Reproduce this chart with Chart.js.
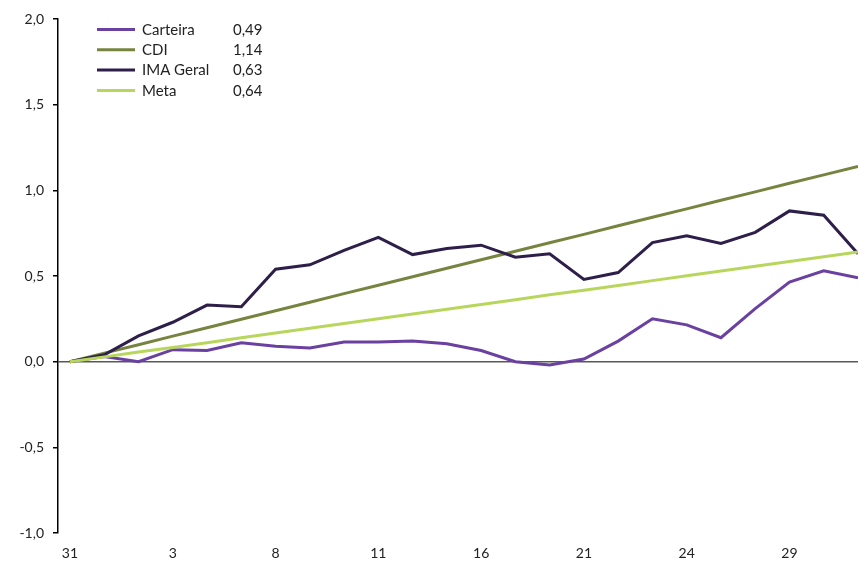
<!DOCTYPE html>
<html>
<head>
<meta charset="utf-8">
<script src="https://cdn.jsdelivr.net/npm/chart.js@4/dist/chart.umd.min.js"></script>
<style>
  html, body { margin: 0; padding: 0; background: #fff; }
  #wrap { width: 859px; height: 561px; position: relative; }
</style>
</head>
<body>
<div id="wrap"><canvas id="myChart"></canvas></div>
<script>
// dias úteis do período
const days = ['31','1','2','3','4','7','8','9','10','11','14','15','16','17','18','21','22','23','24','25','28','29','30','31']

const carteira = [0, 0.03, 0, 0.07, 0.065, 0.11, 0.09, 0.08, 0.115, 0.115, 0.12, 0.105, 0.065, 0, -0.02, 0.015, 0.12, 0.25, 0.215, 0.14, 0.31, 0.465, 0.53, 0.49]
const cdi = [0, 0.050, 0.099, 0.149, 0.198, 0.248, 0.297, 0.347, 0.397, 0.446, 0.496, 0.545, 0.595, 0.644, 0.694, 0.743, 0.793, 0.843, 0.892, 0.942, 0.991, 1.041, 1.090, 1.14]
const imaGeral = [0, 0.04, 0.15, 0.23, 0.33, 0.32, 0.54, 0.565, 0.65, 0.725, 0.625, 0.66, 0.68, 0.61, 0.63, 0.48, 0.52, 0.695, 0.735, 0.69, 0.755, 0.88, 0.855, 0.63]
const meta = [0, 0.028, 0.056, 0.083, 0.111, 0.139, 0.167, 0.195, 0.223, 0.25, 0.278, 0.306, 0.334, 0.362, 0.39, 0.417, 0.445, 0.473, 0.501, 0.529, 0.557, 0.584, 0.612, 0.64]

const seriesNames = ['Carteira', 'CDI', 'IMA Geral', 'Meta']
const seriesValues = [carteira, cdi, imaGeral, meta]
const seriesColors = ['#6a40a0', '#768440', '#2e1f4a', '#b9d65c']
const legendTotals = ['0,49', '1,14', '0,63', '0,64']

const xTicks = [0, 3, 6, 9, 12, 15, 18, 21]

const fmt = v => v.toFixed(1).replace('.', ',')

const legendPlugin = {
    id: 'sideLegend',
    afterDraw(chart) {
        const c = chart.ctx
        c.save()
        c.font = '15px Lato'
        c.textBaseline = 'middle'
        seriesNames.forEach((name, i) => {
            const y = 29.5 + i * 20.3
            c.strokeStyle = seriesColors[i]
            c.lineWidth = 3
            c.beginPath()
            c.moveTo(97, y)
            c.lineTo(135, y)
            c.stroke()
            c.fillStyle = '#222'
            c.textAlign = 'left'
            c.fillText(name, 142, y + 0.5)
            c.fillText(legendTotals[i], 233, y + 0.5)
        })
        c.restore()
    }
}

new Chart(document.getElementById('myChart'), {
    type: 'line',
    data: {
        datasets: seriesNames.map((name, i) => ({
            label: name,
            data: seriesValues[i].map((v, j) => ({ x: j, y: v })),
            borderColor: seriesColors[i],
            borderWidth: 3,
            pointRadius: 0,
            tension: 0,
            order: 3 - i
        }))
    },
    options: {
        responsive: true,
        maintainAspectRatio: false,
        animation: false,
        layout: { padding: { top: 19, right: 1, bottom: 0, left: 0 } },
        plugins: {
            legend: { display: false },
            tooltip: { enabled: false }
        },
        scales: {
            x: {
                type: 'linear',
                min: -0.35,
                max: 23,
                border: { display: false },
                grid: { display: false },
                afterBuildTicks: scale => { scale.ticks = xTicks.map(v => ({ value: v })) },
                afterFit: scale => { scale.height = 28 },
                ticks: {
                    autoSkip: false,
                    maxRotation: 0,
                    padding: 4,
                    color: '#222',
                    font: { family: 'Lato', size: 14 },
                    callback: v => days[v]
                }
            },
            y: {
                min: -1,
                max: 2,
                border: { display: true, color: '#000', width: 1.5 },
                grid: {
                    drawOnChartArea: true,
                    drawTicks: true,
                    tickLength: 5,
                    tickColor: '#000',
                    tickWidth: 1.5,
                    lineWidth: 1.5,
                    color: ctx => ctx.tick && ctx.tick.value === 0 ? '#595959' : 'rgba(0,0,0,0)'
                },
                afterFit: scale => { scale.width = 58 },
                ticks: {
                    stepSize: 0.5,
                    padding: 9,
                    color: '#222',
                    font: { family: 'Lato', size: 14 },
                    callback: v => fmt(v)
                }
            }
        }
    },
    plugins: [legendPlugin]
})
</script>
</body>
</html>
